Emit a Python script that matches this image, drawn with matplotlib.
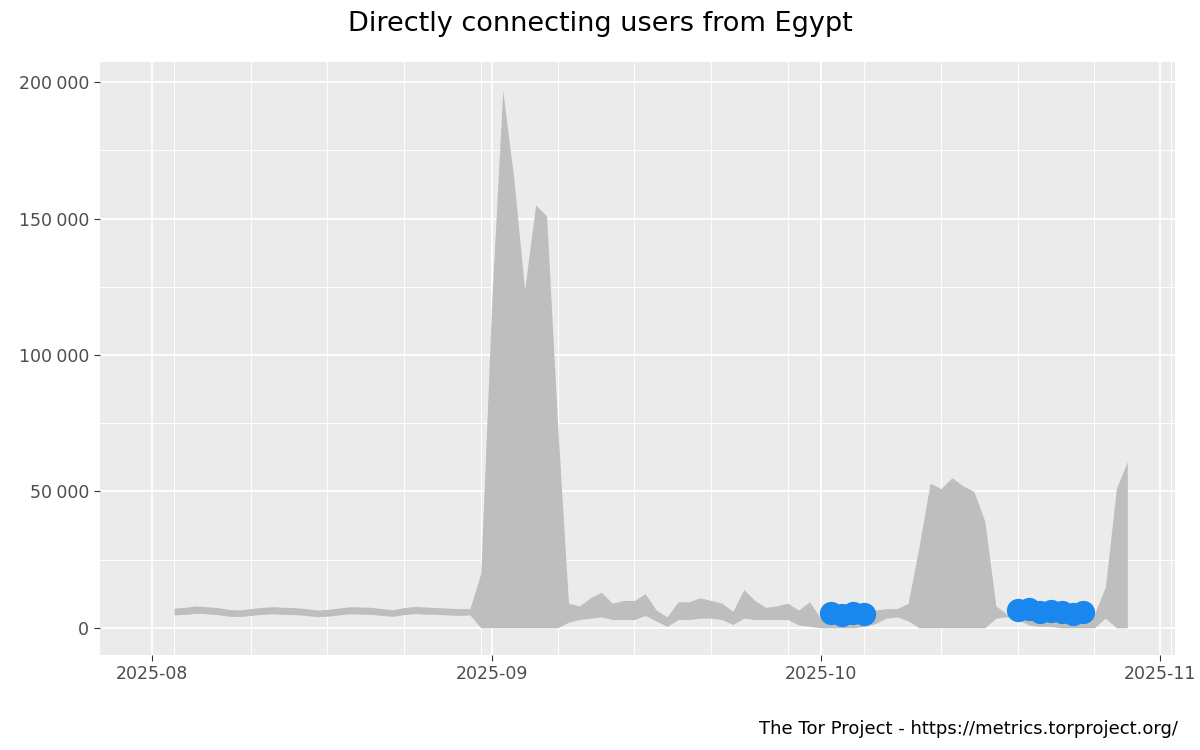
import numpy as np
import pandas as pd
import matplotlib
matplotlib.use("Agg")
import matplotlib.pyplot as plt
import matplotlib.dates as mdates
from matplotlib.ticker import FuncFormatter, MultipleLocator

# ====== Data ======
dates = pd.date_range("2025-08-03", "2025-10-29", freq="D")

upper = [7200, 7500, 8000, 7700, 7400, 6700, 6500, 7000, 7500, 7700, 7500, 7400, 7000, 6500,
         6700, 7200, 7700, 7600, 7500, 7000, 6600, 7400, 7800, 7600, 7400, 7200, 7000,
         7000, 20000,
         120000, 197000, 165000, 124000, 155000, 151000, 75000,
         9000, 8000, 11000, 13000, 9000, 10000, 10000, 12500, 6500, 4000, 9500, 9500, 11000,
         10000, 9000, 6000, 14000, 10000, 7500, 8000, 9000, 6500, 9500,
         3500, 6000, 6000, 6000, 6000, 6500, 7000, 7000, 9000, 30000, 53000, 51000, 55000,
         52000, 50000, 39000, 8000, 5000, 6000, 6000, 6000, 5500, 5500, 5000, 5000, 5000,
         15000, 51000, 61000]
lower = [4700, 4900, 5300, 5100, 4800, 4200, 4100, 4500, 4900, 5100, 4900, 4800, 4500, 4100,
         4200, 4700, 5100, 5000, 4900, 4500, 4200, 4800, 5200, 5000, 4900, 4700, 4500,
         4700, 0,
         0, 0, 0, 0, 0, 0, 0,
         2000, 3000, 3500, 4000, 3000, 3000, 3000, 4500, 2500, 500, 3000, 3000, 3500,
         3500, 3000, 1200, 3500, 3000, 3000, 3000, 3000, 1000, 500,
         0, 0, 0, 0, 500, 1500, 3500, 4000, 2500, 0, 0, 0, 0,
         0, 0, 0, 3500, 4000, 3000, 1000, 500, 500, 0, 0, 0, 0,
         3500, 0, 0]

event_dates = pd.to_datetime(["2025-10-02", "2025-10-03", "2025-10-04", "2025-10-05",
                              "2025-10-19", "2025-10-20", "2025-10-21", "2025-10-22",
                              "2025-10-23", "2025-10-24", "2025-10-25"])
event_users = [5500, 4500, 5500, 5000, 6600, 7000, 5900, 6200, 5900, 5000, 5900]

# ====== Plot ======
fig = plt.figure(figsize=(12, 7.5), dpi=100)
ax = fig.add_axes([0.083, 0.127, 0.896, 0.79])
ax.set_facecolor("#EBEBEB")

ax.fill_between(dates, lower, upper, color="#BEBEBE", lw=0, zorder=2)
ax.scatter(event_dates, event_users, s=280, color="#1A87EE", lw=0, zorder=3)

ax.set_xlim(pd.Timestamp("2025-07-27 05:00"), pd.Timestamp("2025-11-02 08:00"))
ax.set_ylim(-9900, 207300)

ax.xaxis.set_major_locator(mdates.MonthLocator())
ax.xaxis.set_major_formatter(mdates.DateFormatter("%Y-%m"))
ax.xaxis.set_minor_locator(mdates.WeekdayLocator(byweekday=mdates.SU))
ax.yaxis.set_major_locator(MultipleLocator(50000))
ax.yaxis.set_minor_locator(MultipleLocator(25000))
ax.yaxis.set_major_formatter(FuncFormatter(lambda v, p: f"{int(v):,}".replace(",", "\u2005")))

ax.grid(which="major", color="white", lw=1.3, zorder=0)
ax.grid(which="minor", color="white", lw=0.7, zorder=0)
ax.set_axisbelow(True)
for s in ax.spines.values():
    s.set_visible(False)
ax.tick_params(which="major", length=4, color="#333333", labelcolor="#4D4D4D", labelsize=12.5)
ax.tick_params(which="minor", length=0)

fig.suptitle("Directly connecting users from Egypt", y=0.985, fontsize=19.5)
fig.text(0.982, 0.022, "The Tor Project - https://metrics.torproject.org/", ha="right", fontsize=13)

fig.savefig("out.png", dpi=100)
